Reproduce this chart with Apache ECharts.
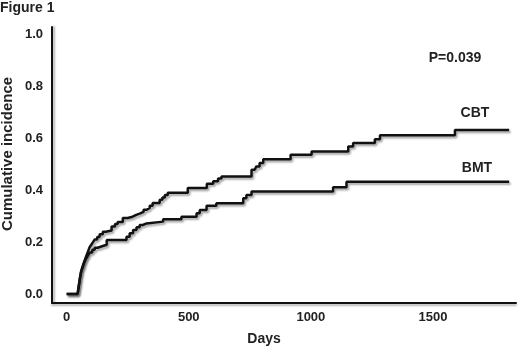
<!DOCTYPE html>
<html>
<head>
<meta charset="utf-8">
<script src="https://cdn.jsdelivr.net/npm/echarts@6/dist/echarts.min.js"></script>
<style>
html, body { margin: 0; padding: 0; background: #fff; }
#chart { width: 520px; height: 347px; }
</style>
</head>
<body>
<div id="chart"></div>
<script>
// 刻度
const xTicks = [0, 500, 1000, 1500]
const yTicks = [0, 0.2, 0.4, 0.6, 0.8, 1.0]

// CBT 曲线 (天数, 累积发生率) —— 每个点为阶跃发生处
const cbtDays = [0, 45, 48, 52, 56, 60, 65, 70, 76, 82, 88, 94, 101, 108, 115, 125, 135, 148, 160, 184, 198, 209, 230, 250, 270, 285, 299, 315, 328, 340, 352, 381, 392, 402, 414, 496, 574, 600, 620, 634, 757, 770, 777, 790, 805, 917, 1003, 1153, 1173, 1262, 1283, 1590, 1812]
const cbtVals = [0, 0, 0.02, 0.045, 0.07, 0.09, 0.105, 0.12, 0.135, 0.15, 0.165, 0.18, 0.19, 0.2, 0.21, 0.22, 0.23, 0.24, 0.245, 0.26, 0.27, 0.278, 0.293, 0.298, 0.305, 0.31, 0.317, 0.325, 0.332, 0.34, 0.351, 0.363, 0.372, 0.382, 0.39, 0.409, 0.425, 0.435, 0.445, 0.453, 0.479, 0.486, 0.492, 0.505, 0.52, 0.537, 0.55, 0.569, 0.582, 0.597, 0.612, 0.633, 0.633]

// BMT 曲线
const bmtDays = [0, 45, 48, 52, 56, 60, 65, 70, 76, 82, 88, 95, 105, 115, 127, 148, 164, 245, 258, 272, 286, 299, 312, 327, 395, 470, 532, 545, 573, 613, 723, 736, 757, 1091, 1146, 1812]
const bmtVals = [0, 0, 0.02, 0.045, 0.07, 0.088, 0.1, 0.115, 0.13, 0.14, 0.15, 0.16, 0.17, 0.178, 0.185, 0.19, 0.208, 0.221, 0.234, 0.247, 0.257, 0.266, 0.272, 0.279, 0.288, 0.298, 0.311, 0.324, 0.34, 0.35, 0.369, 0.382, 0.395, 0.412, 0.433, 0.433]

const font = 'Liberation Sans, Arial, sans-serif'

function pairs (xs, ys) {
  return xs.map((d, i) => [d, ys[i]])
}

const myChart = echarts.init(document.getElementById('chart'), null, { renderer: 'canvas' })

const lineStyle = {
  color: '#111',
  width: 2.5,
  shadowColor: 'rgba(0,0,0,0.35)',
  shadowBlur: 2,
  shadowOffsetX: 1.5,
  shadowOffsetY: 2
}

const option = {
  backgroundColor: '#fff',
  animation: false,
  grid: {
    left: 52,
    right: 4,
    top: 27,
    bottom: 44
  },
  xAxis: {
    type: 'value',
    min: -60,
    max: 1840,
    splitLine: { show: false },
    axisTick: { show: false },
    axisLine: {
      onZero: false,
      lineStyle: { color: '#111', width: 2, shadowColor: 'rgba(0,0,0,0.3)', shadowBlur: 2, shadowOffsetY: 2 }
    },
    axisLabel: {
      customValues: xTicks,
      margin: 8,
      color: '#222',
      fontSize: 13,
      fontWeight: 'bold',
      fontFamily: font,
      formatter: v => String(v)
    }
  },
  yAxis: {
    type: 'value',
    min: -0.035,
    max: 1.03,
    splitLine: { show: false },
    axisTick: { show: false },
    axisLine: {
      show: true,
      onZero: false,
      lineStyle: { color: '#111', width: 2, shadowColor: 'rgba(0,0,0,0.3)', shadowBlur: 2, shadowOffsetX: 2 }
    },
    axisLabel: {
      customValues: yTicks,
      margin: 9,
      color: '#222',
      fontSize: 13,
      fontWeight: 'bold',
      fontFamily: font,
      formatter: v => v.toFixed(1)
    }
  },
  graphic: [
    {
      type: 'text', left: 0, top: 1,
      style: { text: 'Figure 1', fill: '#222', font: 'bold 14px ' + font }
    },
    {
      type: 'text', x: 8, y: 154, rotation: Math.PI / 2,
      style: { text: 'Cumulative incidence', fill: '#222', font: 'bold 15px ' + font, align: 'center', verticalAlign: 'middle' }
    },
    {
      type: 'text', x: 264, y: 339,
      style: { text: 'Days', fill: '#222', font: 'bold 14px ' + font, align: 'center', verticalAlign: 'middle' }
    },
    {
      type: 'text', x: 455, y: 58,
      style: { text: 'P=0.039', fill: '#222', font: 'bold 14px ' + font, align: 'center', verticalAlign: 'middle' }
    },
    {
      type: 'text', x: 475, y: 113,
      style: { text: 'CBT', fill: '#222', font: 'bold 14px ' + font, align: 'center', verticalAlign: 'middle' }
    },
    {
      type: 'text', x: 477, y: 168,
      style: { text: 'BMT', fill: '#222', font: 'bold 14px ' + font, align: 'center', verticalAlign: 'middle' }
    }
  ],
  series: [
    {
      name: 'CBT',
      type: 'line',
      step: 'end',
      showSymbol: false,
      lineStyle: lineStyle,
      data: pairs(cbtDays, cbtVals)
    },
    {
      name: 'BMT',
      type: 'line',
      step: 'end',
      showSymbol: false,
      lineStyle: lineStyle,
      data: pairs(bmtDays, bmtVals)
    }
  ]
}

myChart.setOption(option)
window.addEventListener('resize', () => {
  myChart.resize()
})
</script>
</body>
</html>
